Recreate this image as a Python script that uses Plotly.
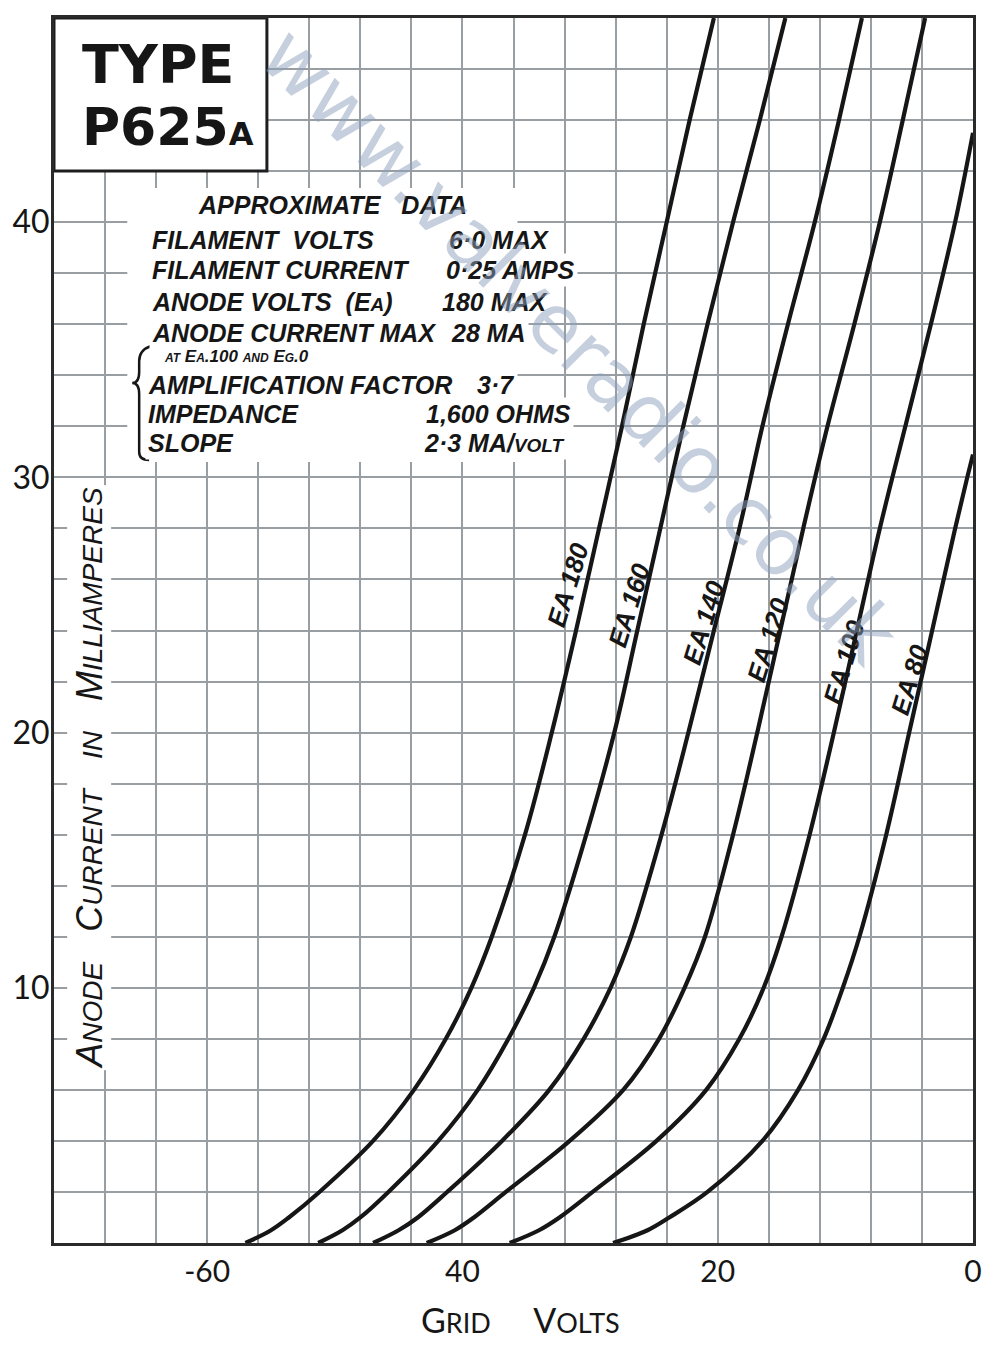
import plotly.graph_objects as go

# ---------------- data ----------------
current_ea180 = [0, 0.5, 1, 2, 4, 6, 8, 10, 12, 16, 20, 24, 28, 32, 36, 40, 44, 48]
volts_ea180 = [-57.0, -55.0, -53.6, -51.2, -47.0, -43.8, -41.3, -39.3, -37.7, -35.1, -33.0, -31.1, -29.3, -27.5, -25.8, -24.0, -22.2, -20.3]

current_ea160 = [0, 0.5, 1, 2, 4, 6, 8, 10, 12, 16, 20, 24, 28, 32, 36, 40, 44, 48]
volts_ea160 = [-51.3, -49.4, -48.0, -45.8, -41.9, -38.8, -36.4, -34.4, -32.8, -30.3, -28.1, -26.3, -24.5, -22.7, -20.8, -18.8, -16.7, -14.7]

current_ea140 = [0, 0.5, 1, 2, 4, 6, 8, 10, 12, 16, 20, 24, 28, 32, 36, 40, 44, 48]
volts_ea140 = [-47.0, -45.0, -43.5, -41.2, -36.9, -33.2, -30.5, -28.4, -26.8, -24.4, -22.3, -20.3, -18.3, -16.5, -14.5, -12.4, -10.5, -8.7]

current_ea120 = [0, 0.5, 1, 2, 4, 6, 8, 10, 12, 16, 20, 24, 28, 32, 36, 40, 44, 48]
volts_ea120 = [-42.8, -40.6, -39.1, -36.6, -31.6, -27.4, -24.6, -22.6, -21.0, -18.8, -16.9, -15.1, -13.3, -11.4, -9.3, -7.3, -5.5, -3.75]

current_ea100 = [0, 0.5, 1, 2, 4, 6, 8, 10, 12, 16, 20, 24, 28, 32, 36, 40, 43.5]
volts_ea100 = [-36.3, -34.0, -32.4, -29.8, -24.8, -20.9, -18.3, -16.4, -15.0, -12.8, -10.9, -9.1, -7.3, -5.3, -3.3, -1.4, 0.0]

current_ea80 = [0, 0.5, 1, 2, 4, 6, 8, 10, 12, 16, 20, 24, 28, 30, 30.9]
volts_ea80 = [-28.2, -25.5, -23.8, -20.8, -16.5, -13.7, -11.7, -10.2, -8.9, -6.8, -5.0, -3.2, -1.4, -0.45, 0.0]

curve_names = ["EA 180", "EA 160", "EA 140", "EA 120", "EA 100", "EA 80"]

x_tick_vals = [-60, -40, -20, 0]
x_tick_text = ["-60", "40", "20", "0"]
y_tick_vals = [10, 20, 30, 40]
y_tick_text = ["10", "20", "30", "40"]

data_left = [
    "FILAMENT&nbsp;&nbsp;VOLTS",
    "FILAMENT CURRENT",
    "ANODE VOLTS&nbsp;&nbsp;(E<span style='font-size:19px'>A</span>)",
    "ANODE CURRENT MAX",
    "AMPLIFICATION FACTOR",
    "IMPEDANCE",
    "SLOPE",
]
data_right = ["6·0 MAX", "0·25 AMPS", "180 MAX", "28 MA", "3·7", "1,600 OHMS",
              "2·3 MA/<span style='font-size:19px'>VOLT</span>"]

# ---------------- geometry helpers (pixel -> data for decorations) ----------------
W, H = 989, 1345
ML, MR, MT, MB = 54, 7, 18, 102
X0, X1 = -72, 0
Y0, Y1 = 0, 48
PW = W - ML - MR
PH = H - MT - MB


def px2x(px):
    return X0 + (px - ML) / PW * (X1 - X0)


def px2y(py):
    return Y1 - (py - MT) / PH * (Y1 - Y0)


INK = "#161616"
GRID = "#999ea3"

fig = go.Figure()
series = [
    (volts_ea180, current_ea180),
    (volts_ea160, current_ea160),
    (volts_ea140, current_ea140),
    (volts_ea120, current_ea120),
    (volts_ea100, current_ea100),
    (volts_ea80, current_ea80),
]
for (vx, iy), name in zip(series, curve_names):
    fig.add_trace(go.Scatter(x=vx, y=iy, mode="lines", name=name,
                             line=dict(color=INK, width=4.2, shape="spline", smoothing=1.0),
                             hoverinfo="skip", showlegend=False))

annotations = []
shapes = []

# title box
shapes.append(dict(type="rect", xref="x", yref="y", x0=X0, x1=px2x(269), y0=px2y(171), y1=Y1,
                   fillcolor="white", line=dict(color="#1e1e1e", width=3), layer="above"))
annotations.append(dict(x=px2x(80), y=px2y(64), xref="x", yref="y", xanchor="left", yanchor="middle",
                        text="<b>TYPE</b>", showarrow=False,
                        font=dict(family="DejaVu Sans", size=54, color=INK)))
annotations.append(dict(x=px2x(80), y=px2y(127), xref="x", yref="y", xanchor="left", yanchor="middle",
                        text="<b>P625<span style='font-size:32px'>A</span></b>", showarrow=False,
                        font=dict(family="DejaVu Sans", size=52, color=INK)))

# white panel behind data block
shapes.append(dict(type="rect", xref="x", yref="y", x0=px2x(128), x1=px2x(522), y0=px2y(462), y1=px2y(188),
                   fillcolor="white", line=dict(width=0), layer="above"))

DFONT = dict(family="Liberation Sans", size=25, color=INK)
annotations.append(dict(x=px2x(335), y=px2y(205), xref="x", yref="y", xanchor="center", yanchor="middle",
                        text="<b><i>APPROXIMATE&nbsp;&nbsp;&nbsp;DATA</i></b>", showarrow=False,
                        font=dict(family="Liberation Sans", size=25, color=INK), bgcolor="white"))

row_y = [240, 270, 302, 333, 385, 414, 443]
right_x = [450, 447, 443, 452, 478, 427, 425]
left_x = [150, 150, 150, 150, 146, 146, 146]
for txt, rtxt, py, rx, lx in zip(data_left, data_right, row_y, right_x, left_x):
    annotations.append(dict(x=px2x(lx), y=px2y(py), xref="x", yref="y", xanchor="left", yanchor="middle",
                            text="<b><i>" + txt + "</i></b>", showarrow=False, font=DFONT,
                            bgcolor="white", borderpad=2))
    annotations.append(dict(x=px2x(rx), y=px2y(py), xref="x", yref="y", xanchor="left", yanchor="middle",
                            text="<b><i>" + rtxt + "</i></b>", showarrow=False, font=DFONT,
                            bgcolor="white", borderpad=2))
annotations.append(dict(x=px2x(163), y=px2y(356), xref="x", yref="y", xanchor="left", yanchor="middle",
                        text="<b><i><span style='font-size:12px'>AT</span> E<span style='font-size:12px'>A</span>.100 "
                             "<span style='font-size:12px'>AND</span> E<span style='font-size:12px'>G</span>.0</i></b>",
                        showarrow=False, font=dict(family="Liberation Sans", size=17, color=INK), bgcolor="white"))

# brace
bp = [(152, 346), (140, 350), (140, 372), (133, 383), (140, 394), (140, 452), (150, 460)]
P = [(px2x(a), px2y(b)) for a, b in bp]
path = (f"M {P[0][0]},{P[0][1]} Q {P[1][0]},{P[1][1]} {P[2][0]},{(P[1][1]+P[2][1])/2} "
        f"L {P[2][0]},{P[2][1]} Q {P[2][0]},{P[3][1]} {P[3][0]},{P[3][1]} "
        f"Q {P[4][0]},{P[3][1]} {P[4][0]},{P[4][1]} L {P[5][0]},{P[5][1]} "
        f"Q {P[5][0]},{P[6][1]} {P[6][0]},{P[6][1]}")
shapes.append(dict(type="path", xref="x", yref="y", path=path, line=dict(color=INK, width=2.5), layer="above"))

# curve labels
label_px = [(573, 585), (635, 605), (710, 623), (775, 640), (852, 662), (918, 680)]
for name, (lx, ly) in zip(curve_names, label_px):
    annotations.append(dict(x=px2x(lx), y=px2y(ly), xref="x", yref="y", xanchor="center", yanchor="middle",
                            text="<b><i>" + name + "</i></b>", textangle=-73, showarrow=False,
                            font=dict(family="Liberation Sans", size=26, color=INK)))

# watermark
annotations.append(dict(x=px2x(585), y=px2y(346), xref="x", yref="y", xanchor="center", yanchor="middle",
                        text="www.valveradio.co.uk", textangle=45, showarrow=False, opacity=0.5,
                        font=dict(family="DejaVu Sans", size=79, color="rgb(140,160,188)")))

# y title (inside plot)
sm = "<span style='font-size:28px'>"
annotations.append(dict(x=px2x(89), y=px2y(778), xref="x", yref="y", xanchor="center", yanchor="middle",
                        text="<i>A" + sm + "NODE</span>&nbsp;&nbsp;&nbsp;C" + sm + "URRENT</span>&nbsp;&nbsp;&nbsp;" + sm +
                             "IN</span>&nbsp;&nbsp;&nbsp;M" + sm + "ILLIAMPERES</span></i>",
                        textangle=-90, showarrow=False, bgcolor="white",
                        font=dict(family="Liberation Sans", size=36, color=INK)))

# x title
sx = "<span style='font-size:27px'>"
annotations.append(dict(x=(525 - ML) / PW, y=-(1319 - (H - MB)) / PH, xref="paper", yref="paper",
                        xanchor="center", yanchor="middle",
                        text="G" + sx + "RID</span>&nbsp;&nbsp;&nbsp;&nbsp;&nbsp;V" + sx + "OLTS</span>",
                        showarrow=False, font=dict(family="Lato", size=34, color=INK)))

axis_common = dict(showgrid=True, gridcolor=GRID, gridwidth=2, zeroline=False,
                   showline=True, linecolor="#2a2a2a", linewidth=3, mirror=True, ticks="",
                   fixedrange=True)

fig.update_layout(
    width=W, height=H,
    margin=dict(l=ML, r=MR, t=MT, b=MB, pad=0),
    paper_bgcolor="white", plot_bgcolor="white",
    showlegend=False,
    xaxis=dict(range=[X0, X1], tickmode="array", tickvals=x_tick_vals, ticktext=x_tick_text,
               minor=dict(dtick=4, tick0=0, showgrid=True, gridcolor=GRID, gridwidth=2, ticks=""),
               tickfont=dict(family="Lato", size=30, color=INK), ticklabelstandoff=0, **axis_common),
    yaxis=dict(range=[Y0, Y1], tickmode="array", tickvals=y_tick_vals, ticktext=y_tick_text,
               minor=dict(dtick=2, tick0=0, showgrid=True, gridcolor=GRID, gridwidth=2, ticks=""),
               tickfont=dict(family="Lato", size=32, color=INK), ticklabelstandoff=-5, **axis_common),
    annotations=annotations,
    shapes=shapes,
)

fig.write_html("out.html", config={"displayModeBar": False})
